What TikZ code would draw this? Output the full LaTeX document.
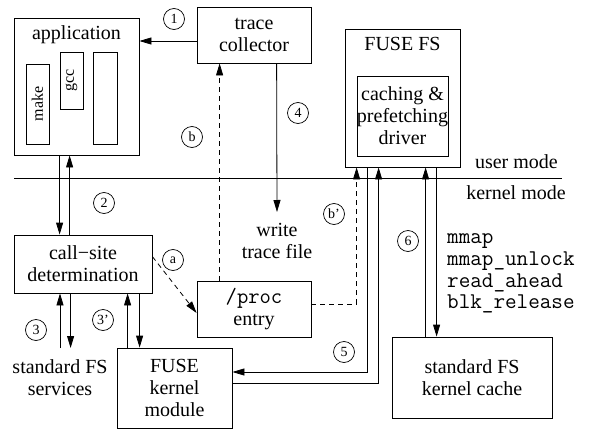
\documentclass[tikz,border=0pt]{standalone}
\usepackage{fontspec}
\setmainfont{Liberation Serif}
\usetikzlibrary{arrows.meta,calc}
\begin{document}
\begin{tikzpicture}[x=1pt,y=-1pt,
  every node/.style={font=\fontsize{20}{22}\selectfont},
  box/.style={draw,line width=0.8pt,rectangle,inner sep=0pt,align=center},
  txt/.style={align=center,inner sep=0pt},
  num/.style={draw,circle,line width=0.7pt,inner sep=0pt,minimum size=21pt,font=\fontsize{14}{14}\selectfont},
  ln/.style={line width=0.8pt},
  arr/.style={line width=0.8pt,-{Triangle[length=12pt,width=7pt]}},
  dsh/.style={line width=0.8pt,dash pattern=on 5pt off 4pt,-{Triangle[length=12pt,width=7pt]}}
]
\useasboundingbox (0,0) rectangle (591,428);

% boxes
\node[box,minimum width=125pt,minimum height=137pt,
  label={[anchor=north,inner sep=0pt,yshift=-8pt]north:application}] (app) at (76.5,86.5) {};
\node[box,minimum width=23pt,minimum height=80pt] (make) at (37.5,104) {\rotatebox{90}{\fontsize{16}{16}\selectfont make}};
\node[box,minimum width=23pt,minimum height=57pt] (gcc) at (71.5,80.5) {\rotatebox{90}{\fontsize{16}{16}\selectfont gcc}};
\node[box,minimum width=24pt,minimum height=92pt] (third) at (105,98) {};

\node[box,minimum width=114pt,minimum height=56pt] (tc) at (254,35) {trace\\collector};

\node[box,minimum width=115pt,minimum height=138pt,
  label={[anchor=north,inner sep=0pt,yshift=-8pt]north:FUSE FS}] (fuse) at (402.5,98) {};
\node[box,minimum width=91pt,minimum height=80pt] (drv) at (402.5,116) {caching \&\\prefetching\\driver};

\node[box,minimum width=138pt,minimum height=58pt] (cs) at (83,264) {call−site\\determination};
\node[box,minimum width=114pt,minimum height=56pt] (proc) at (254,309) {{\fontsize{22}{22}\selectfont\ttfamily /proc}\\entry};
\node[box,minimum width=115pt,minimum height=80pt] (fkm) at (174.5,388) {FUSE\\kernel\\module};
\node[box,minimum width=160pt,minimum height=81pt] (kc) at (472,377.5) {standard FS\\kernel cache};

\node[txt] (sfs) at (60,378) {standard FS\\services};
\node[txt] (wtf) at (277,241) {write\\trace file};
\node[txt,anchor=west,font=\fontsize{22.5}{21.7}\selectfont\ttfamily,align=left] (calls) at (447,273.5) {mmap\\mmap\_unlock\\read\_ahead\\blk\_release};

% user / kernel mode
\coordinate (ul) at (14,178);
\coordinate (ur) at (562,178);
\draw[ln] (ul) -- (ur);
\node[txt,anchor=east] (um) at (558,162) {user mode};
\node[txt] (km) at (516,193) {kernel mode};

% connectors
\coordinate (sfstop) at (60,348);
\coordinate (wtftop) at (277,212);

% 1
\draw[arr] ([yshift=-6pt]tc.west) -- ([yshift=-6pt]tc.west -| app.east);
% 2
\draw[arr] ([xshift=46pt]app.south west) -- ([xshift=46pt]app.south west |- cs.north);
\draw[arr] ([xshift=56pt]cs.north west) -- ([xshift=56pt]cs.north west |- app.south);
% 3
\draw[arr] (sfstop) -- (sfstop |- cs.south);
\draw[arr] ([xshift=57pt]cs.south west) -- ([xshift=57pt]cs.south west |- sfstop);
% 3'
\draw[arr] ([xshift=11pt]fkm.north west) -- ([xshift=11pt]fkm.north west |- cs.south);
\draw[arr] ([xshift=126pt]cs.south west) -- ([xshift=126pt]cs.south west |- fkm.north);
% a
\draw[dsh] ([yshift=-22pt]cs.north east) -- ([yshift=-4pt]proc.west);
% b
\draw[dsh] ([xshift=23pt]proc.north west) -- ([xshift=23pt]proc.north west |- tc.south);
% 4
\draw[arr] ([xshift=80pt]tc.south west) -- (wtftop);
% b'
\draw[dsh] ([yshift=5pt]proc.east) -| ([xshift=12pt]fuse.south west);
% 5
\draw[arr] ([xshift=23pt]fuse.south west) |- ([yshift=16pt]fkm.east);
\draw[arr] ([yshift=5pt]fkm.east) -| ([xshift=34pt]fuse.south west);
% 6
\draw[arr] ([xshift=34pt]kc.north west) -- ([xshift=34pt]kc.north west |- fuse.south);
\draw[arr] ([xshift=92pt]fuse.south west) -- ([xshift=92pt]fuse.south west |- kc.north);

% numbered circles
\node[num] (n1) at (174,19) {1};
\node[num] (n2) at (104,203) {2};
\node[num] (n3) at (36,330) {3};
\node[num] (n3p) at (103,320) {3'};
\node[num] (n4) at (298,113) {4};
\node[num] (n5) at (344,352) {5};
\node[num] (n6) at (408,241) {6};
\node[num] (na) at (173,260) {a};
\node[num] (nb) at (192,137) {b};
\node[num] (nbp) at (334,214) {b'};
\end{tikzpicture}
\end{document}
